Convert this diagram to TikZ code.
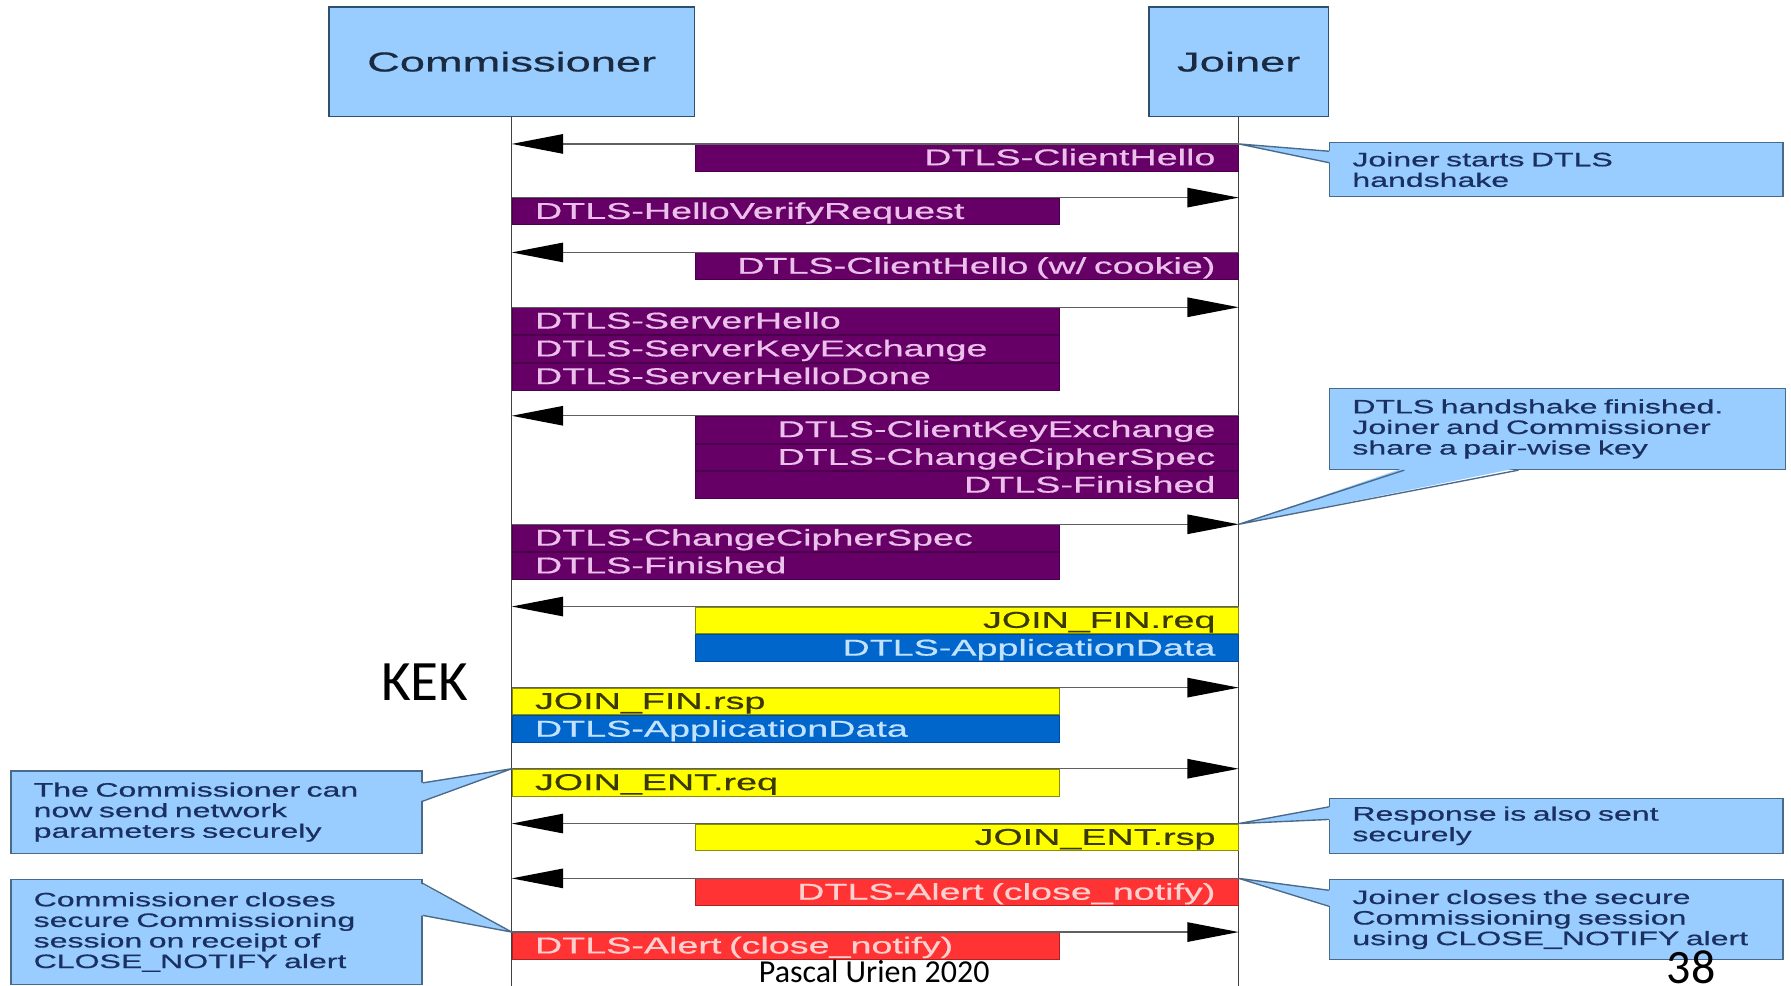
\documentclass[tikz,border=0pt]{standalone}
\usepackage{fontspec}
\usetikzlibrary{arrows.meta,calc}
\newfontfamily\dfont[FakeStretch=1.65,FakeBold=0.6]{Liberation Sans}
\newfontfamily\calfont{Carlito}
\definecolor{purp}{HTML}{660066}
\definecolor{purpd}{HTML}{4A004A}
\definecolor{purpt}{HTML}{EBC0EB}
\definecolor{yel}{HTML}{FFFF00}
\definecolor{yeld}{HTML}{8C8C00}
\definecolor{yelt}{HTML}{3A3A00}
\definecolor{blu}{HTML}{0066CC}
\definecolor{blud}{HTML}{004C99}
\definecolor{blut}{HTML}{C2E2FF}
\definecolor{rd}{HTML}{FF3333}
\definecolor{rdd}{HTML}{B32020}
\definecolor{rdt}{HTML}{FFD0D0}
\definecolor{calfill}{HTML}{99CCFF}
\definecolor{calline}{HTML}{4A6A8A}
\definecolor{caltext}{HTML}{1A3060}
\definecolor{actline}{HTML}{2F4F6F}
\definecolor{acttext}{HTML}{1A2A40}
\definecolor{lifegray}{HTML}{404040}
\definecolor{msggray}{HTML}{606060}
\begin{document}
\begin{tikzpicture}[x=0.5pt,y=-0.5pt,
  actor/.style={rectangle, draw=actline, fill=calfill, line width=0.7pt, minimum height=48pt, text=acttext, font=\dfont\fontsize{12}{14}\selectfont},
  life/.style={draw=lifegray, line width=0.6pt},
  bar/.style={rectangle, inner xsep=10pt, inner ysep=0pt, minimum height=11.75pt, text height=8pt, text depth=1.5pt, line width=0.4pt, font=\dfont\fontsize{10}{12}\selectfont},
  lbar/.style={bar, anchor=north west, text width=219.5pt, align=left},
  rbar/.style={bar, anchor=north east, text width=217.5pt, align=right},
  purpbar/.style={fill=purp, draw=purpd, text=purpt},
  yelbar/.style={fill=yel, draw=yeld, text=yelt},
  blubar/.style={fill=blu, draw=blud, text=blut},
  redbar/.style={fill=rd, draw=rdd, text=rdt},
  msg/.style={draw=msggray, line width=0.6pt, -{Triangle[length=22.5pt,width=8.5pt,color=black]}},
  call/.style={rectangle, draw=calline, fill=calfill, line width=0.6pt, inner xsep=10pt, inner ysep=0pt, align=left, text=caltext, font=\dfont\fontsize{8.5}{9}\selectfont},
  ptr/.style={draw=calline, line width=0.6pt},
  calfont/.style={font=\calfont\fontsize{#1}{#1}\selectfont, text=black, inner sep=0pt}
]
\useasboundingbox (0,0) rectangle (1568,863);
\clip (0,0) rectangle (1568,863);

% actors and lifelines
\node[actor, minimum width=160pt] (comm) at (448,54) {Commissioner};
\node[actor, minimum width=78.5pt] (join) at (1084.5,54) {Joiner};
\coordinate (bot) at (0,870);
\draw[life] (comm.south) -- (comm.south |- bot);
\draw[life] (join.south) -- (join.south |- bot);

% messages
\node[rbar,purpbar] (m1) at (join.south |- 0,126) {DTLS-ClientHello};
\draw[msg] (m1.north east) -- (comm.south |- m1.north);

\node[lbar,purpbar] (m2) at (comm.south |- 0,173) {DTLS-HelloVerifyRequest};
\draw[msg] (m2.north west) -- (join.south |- m2.north);

\node[rbar,purpbar] (m3) at (join.south |- 0,221) {DTLS-ClientHello (w/ cookie)};
\draw[msg] (m3.north east) -- (comm.south |- m3.north);

\node[lbar,purpbar] (m4a) at (comm.south |- 0,269) {DTLS-ServerHello};
\node[lbar,purpbar] (m4b) at (m4a.south west) {DTLS-ServerKeyExchange};
\node[lbar,purpbar] (m4c) at (m4b.south west) {DTLS-ServerHelloDone};
\draw[msg] (m4a.north west) -- (join.south |- m4a.north);

\node[rbar,purpbar] (m5a) at (join.south |- 0,364) {DTLS-ClientKeyExchange};
\node[rbar,purpbar] (m5b) at (m5a.south east) {DTLS-ChangeCipherSpec};
\node[rbar,purpbar] (m5c) at (m5b.south east) {DTLS-Finished};
\draw[msg] (m5a.north east) -- (comm.south |- m5a.north);

\node[lbar,purpbar] (m6a) at (comm.south |- 0,459) {DTLS-ChangeCipherSpec};
\node[lbar,purpbar] (m6b) at (m6a.south west) {DTLS-Finished};
\draw[msg] (m6a.north west) -- (join.south |- m6a.north);

\node[rbar,yelbar] (m7a) at (join.south |- 0,531) {JOIN\_FIN.req};
\node[rbar,blubar] (m7b) at (m7a.south east) {DTLS-ApplicationData};
\draw[msg] (m7a.north east) -- (comm.south |- m7a.north);

\node[lbar,yelbar] (m8a) at (comm.south |- 0,602) {JOIN\_FIN.rsp};
\node[lbar,blubar] (m8b) at (m8a.south west) {DTLS-ApplicationData};
\draw[msg] (m8a.north west) -- (join.south |- m8a.north);

\node[lbar,yelbar] (m9) at (comm.south |- 0,673) {JOIN\_ENT.req};
\draw[msg] (m9.north west) -- (join.south |- m9.north);

\node[rbar,yelbar] (m10) at (join.south |- 0,721) {JOIN\_ENT.rsp};
\draw[msg] (m10.north east) -- (comm.south |- m10.north);

\node[rbar,redbar] (m11) at (join.south |- 0,769) {DTLS-Alert (close\_notify)};
\draw[msg] (m11.north east) -- (comm.south |- m11.north);

\node[lbar,redbar] (m12) at (comm.south |- 0,816) {DTLS-Alert (close\_notify)};
\draw[msg] (m12.north west) -- (join.south |- m12.north);

% callouts
\node[call, minimum width=198.5pt, text width=178.5pt, minimum height=23.5pt] (cA) at (1362.5,148.5) {Joiner starts DTLS\\handshake};
\coordinate (tA) at (join.south |- m1.north);
\fill[calfill] ($(cA.north west)+(2,8)$) -- (tA) -- ($(cA.north west)+(2,18)$) -- cycle;
\draw[ptr] ($(cA.north west)+(0,8)$) -- (tA) -- ($(cA.north west)+(0,18)$);

\node[call, minimum width=199.5pt, text width=179.5pt, minimum height=35.5pt] (cB) at (1363.5,375.5) {DTLS handshake finished.\\Joiner and Commissioner\\share a pair-wise key};
\coordinate (tB) at (join.south |- m6a.north);
\fill[calfill] ($(cB.south west)+(66,-2)$) -- (tB) -- ($(cB.south west)+(166,-2)$) -- cycle;
\draw[ptr] ($(cB.south west)+(66,0)$) -- (tB) -- ($(cB.south west)+(166,0)$);

\node[call, minimum width=179.5pt, text width=160pt, minimum height=36pt] (cC) at (189.5,711) {The Commissioner can\\now send network\\parameters securely};
\coordinate (tC) at (comm.south |- m9.north);
\fill[calfill] ($(cC.north east)+(-2,11)$) -- (tC) -- ($(cC.north east)+(-2,27)$) -- cycle;
\draw[ptr] ($(cC.north east)+(0,11)$) -- (tC) -- ($(cC.north east)+(0,27)$);

\node[call, minimum width=198.5pt, text width=178.5pt, minimum height=24pt] (cD) at (1362.5,723) {Response is also sent\\securely};
\coordinate (tD) at (join.south |- m10.north);
\fill[calfill] ($(cD.north west)+(2,8)$) -- (tD) -- ($(cD.north west)+(2,19)$) -- cycle;
\draw[ptr] ($(cD.north west)+(0,8)$) -- (tD) -- ($(cD.north west)+(0,19)$);

\node[call, minimum width=179.5pt, text width=160pt, minimum height=46pt] (cE) at (189.5,816) {Commissioner closes\\secure Commissioning\\session on receipt of\\CLOSE\_NOTIFY alert};
\coordinate (tE) at (comm.south |- m12.north);
\fill[calfill] ($(cE.north east)+(-2,4)$) -- (tE) -- ($(cE.north east)+(-2,32)$) -- cycle;
\draw[ptr] ($(cE.north east)+(0,4)$) -- (tE) -- ($(cE.north east)+(0,32)$);

\node[call, minimum width=198.5pt, text width=178.5pt, minimum height=35pt] (cF) at (1362.5,805) {Joiner closes the secure\\Commissioning session\\using CLOSE\_NOTIFY alert};
\coordinate (tF) at (join.south |- m11.north);
\fill[calfill] ($(cF.north west)+(2,10)$) -- (tF) -- ($(cF.north west)+(2,24)$) -- cycle;
\draw[ptr] ($(cF.north west)+(0,10)$) -- (tF) -- ($(cF.north west)+(0,24)$);

% slide overlays
\node[calfont=25] (kek) at (372,597) {KEK};
\node[calfont=14, anchor=base west] (author) at (664,860) {Pascal Urien 2020};
\node[calfont=21, anchor=base west] (page) at (1459,861) {38};
\end{tikzpicture}
\end{document}
